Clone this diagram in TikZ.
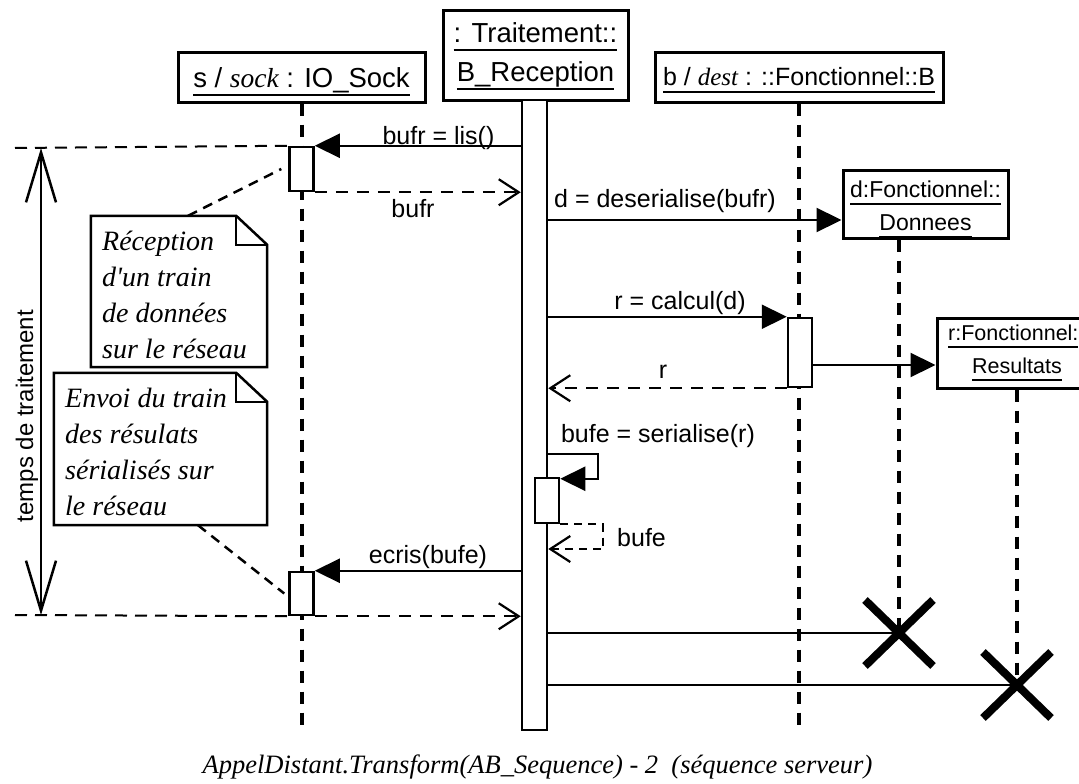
\documentclass[tikz,border=0pt]{standalone}
\usepackage{fontspec}
\setmainfont{Liberation Sans}
\newfontfamily\tmfont{Liberation Serif}
\usetikzlibrary{arrows.meta,shapes.misc,calc}
\newcommand\myul[1]{\setbox0\hbox{#1}\rlap{\rule[-8.2pt]{\wd0}{2.4pt}}\box0}
\newcommand\mylbl{\fontsize{25}{30}\selectfont}
\newcommand\myttl{\fontsize{27.5}{39}\selectfont}
\newcommand\myobj{\fontsize{23}{33}\selectfont}
\newcommand\myobjr{\fontsize{21.5}{33}\selectfont}
\newcommand\mynote{\tmfont\itshape\fontsize{28}{36}\selectfont}
\newcommand\mycap{\tmfont\itshape\fontsize{26.5}{30}\selectfont}
\begin{document}
\begin{tikzpicture}[x=1pt,y=-1pt,
  objbox/.style={draw, line width=3pt, inner sep=0pt},
  actbox/.style={draw, fill=white, line width=2.5pt, inner sep=0pt},
  life/.style={line width=4pt, dash pattern=on 12pt off 9pt},
  call/.style={line width=2.2pt, -{Triangle[length=25pt,width=24pt]}},
  ret/.style={line width=2.2pt, dash pattern=on 12pt off 9pt, -{Straight Barb[length=20pt,width=26pt]}},
  smallret/.style={line width=2.2pt, dash pattern=on 8pt off 6pt, -{Straight Barb[length=20pt,width=26pt]}},
  msgline/.style={line width=2.2pt},
  guide/.style={line width=2pt, dash pattern=on 12pt off 8pt},
  notelink/.style={line width=2.5pt, dash pattern=on 10pt off 7pt},
  noteline/.style={line width=2.5pt, line join=miter},
  lbl/.style={font=\mylbl, inner sep=0pt, anchor=base},
  ttl/.style={font=\myttl, inner sep=0pt, anchor=base},
  objtxt/.style={font=\myobj, inner sep=0pt, anchor=base},
  notetxt/.style={font=\mynote, inner sep=0pt, anchor=base west},
  killx/.style={cross out, draw, line width=8pt, minimum width=60pt, minimum height=58pt, inner sep=0pt},
  dblarr/.style={line width=2.5pt, {Straight Barb[length=50pt,width=30pt]}-{Straight Barb[length=50pt,width=30pt]}}
]
\fill[white] (0,0) rectangle (1079,784);
\useasboundingbox (0,0) rectangle (1079,784);

% object boxes
\node[objbox, minimum width=247pt, minimum height=49pt] (sbox) at (301.5,77.5) {};
\node[objbox, minimum width=185pt, minimum height=89pt] (tbox) at (535.5,55.5) {};
\node[objbox, minimum width=288pt, minimum height=49pt] (bbox) at (799,77.5) {};
\node[objbox, fill=white, minimum width=165pt, minimum height=68pt] (dbox) at (925.5,204) {};
\node[objbox, fill=white, minimum width=160pt, minimum height=70pt] (rbox) at (1017,353) {};

\node[ttl] (stxt) at (301.5,88) {\myul{s / {\tmfont\itshape sock} : IO\_Sock}};
\node[ttl] (ttxt) at (535.5,43) {\begin{tabular}[t]{@{}c@{}}\myul{: Traitement::}\\ \myul{B\_Reception}\end{tabular}};
\node[ttl, font=\fontsize{25}{30}\selectfont] (btxt) at (799,85) {\myul{b / {\tmfont\itshape dest} : ::Fonctionnel::B}};
\node[objtxt] (dtxt) at (925.5,197) {\begin{tabular}[t]{@{}c@{}}\myul{d:Fonctionnel::}\\ \myul{Donnees}\end{tabular}};
\node[objtxt, font=\myobjr, anchor=base west] (rtxt1) at (948,340) {\myul{r:Fonctionnel:}};
\node[objtxt, font=\myobjr] (rtxt2) at (1017,373) {\myul{Resultats}};

% activation bar of the server
\node[actbox, minimum width=25pt, minimum height=630pt] (bar) at (534.5,415) {};

% destruction marks
\node[killx] (xd) at (899,633) {};
\node[killx] (xr) at (1017,685) {};

% lifelines
\draw[life] (sbox.south) -- (sbox.south |- bar.south);
\draw[life] (bbox.south) -- (bbox.south |- bar.south);
\draw[life] (dbox.south -| xd) -- (xd.center);
\draw[life] (rbox.south) -- (xr.center);

% activations
\node[actbox, minimum width=24pt, minimum height=44pt] (s1) at (301.5,169) {};
\node[actbox, minimum width=24pt, minimum height=43pt] (s2) at (301.5,593.5) {};
\node[actbox, minimum width=24pt, minimum height=69pt] (bact) at (800,352.5) {};
\node[actbox, minimum width=24pt, minimum height=45pt] (nact) at (547,500.5) {};

% time guides
\coordinate (g1) at (15,148);
\coordinate (g2) at (15,615);
\coordinate (va1) at (41,148);
\coordinate (va2) at (41,615);
\draw[guide] (g1) -- (s1.north west);
\draw[guide] (g2) -- (s2.south west);
\draw[dblarr] (va1) -- (va2);
\node[font=\fontsize{24}{28}\selectfont, rotate=90, inner sep=0pt] (temps) at (27,416) {temps de traitement};

% notes
\node[minimum width=176pt, minimum height=151pt, inner sep=0pt] (n1) at (179,291.5) {};
\draw[noteline] (n1.north west) -- ([xshift=-31pt]n1.north east) -- ([yshift=-29pt]n1.north east) -- (n1.south east) -- (n1.south west) -- cycle;
\draw[noteline] ([xshift=-31pt]n1.north east) |- ([yshift=-29pt]n1.north east);
\node[notetxt] (n1t) at (102,250) {\begin{tabular}[t]{@{}l@{}}Réception\\d'un train\\de données\\sur le réseau\end{tabular}};

\node[minimum width=213pt, minimum height=152pt, inner sep=0pt] (n2) at (160.5,449) {};
\draw[noteline] (n2.north west) -- ([xshift=-31pt]n2.north east) -- ([yshift=-29pt]n2.north east) -- (n2.south east) -- (n2.south west) -- cycle;
\draw[noteline] ([xshift=-31pt]n2.north east) |- ([yshift=-29pt]n2.north east);
\node[notetxt] (n2t) at (65,407) {\begin{tabular}[t]{@{}l@{}}Envoi du train\\des résulats\\sérialisés sur\\le réseau\end{tabular}};

\draw[notelink] ([xshift=9pt]n1.north) -- ([xshift=-7pt]s1.west);
\draw[notelink] ([xshift=37.5pt]n2.south) -- ([xshift=-4pt]s2.west);

% messages
\draw[call] (bar.west |- s1.north east) -- (s1.north east);
\node[lbl] (m1) at (438.5,144) {bufr = lis()};
\draw[ret] (s1.south east) -- (bar.west |- s1.south east);
\node[lbl] (m1r) at (413,217) {bufr};

\coordinate (din) at ([yshift=-16pt]dbox.west);
\draw[call] (bar.east |- din) -- (din);
\node[lbl] (m2) at (665,207) {d = deserialise(bufr)};

\draw[call] (bar.east |- bact.north west) -- (bact.north west);
\node[lbl] (m3) at (680,309) {r = calcul(d)};
\coordinate (rin) at ([yshift=-12pt]rbox.west);
\draw[call] (bact.east |- rin) -- (rin);
\draw[ret] (bact.south west) -- (bar.east |- bact.south west);
\node[lbl] (m3r) at (663,378) {r};

\coordinate (sc1) at (598,454);
\draw[call] (bar.east |- sc1) -- (sc1) |- ([yshift=-2pt]nact.north east);
\node[lbl] (m4) at (658,442) {bufe = serialise(r)};
\coordinate (sr1) at (603,549);
\draw[smallret] (nact.south east) -| (sr1) -- (bar.east |- sr1);
\node[lbl, anchor=base west] (m4r) at (617,546) {bufe};

\draw[call] (bar.west |- s2.north east) -- (s2.north east);
\node[lbl] (m5) at (428,563) {ecris(bufe)};
\draw[ret] (s2.south east) -- (bar.west |- s2.south east);

\draw[msgline] (bar.east |- xd) -- (xd.center);
\draw[msgline] (bar.east |- xr) -- (xr.center);

% caption
\node[font=\mycap, inner sep=0pt, anchor=base] (cap) at (537.5,773) {AppelDistant.Transform(AB\_Sequence) - 2\ \ (séquence serveur)};
\end{tikzpicture}
\end{document}
